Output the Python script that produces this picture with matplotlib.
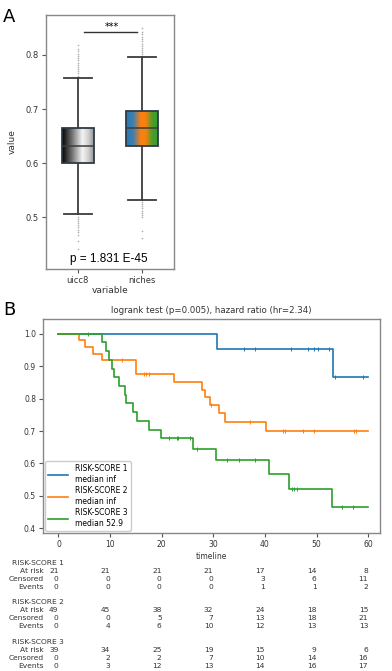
import numpy as np
import matplotlib
matplotlib.use('Agg')
import matplotlib.pyplot as plt
import matplotlib.transforms as mtransforms
from matplotlib.colors import LinearSegmentedColormap

# ---- panel A data (box stats)
groups = ['uicc8', 'niches']
q1 = [0.601, 0.631]
med = [0.632, 0.665]
q3 = [0.665, 0.697]
whislo = [0.505, 0.532]
whishi = [0.758, 0.797]
fliers_uicc8 = [0.762, 0.766, 0.770, 0.774, 0.778, 0.782, 0.786, 0.790, 0.794, 0.798,
                0.802, 0.807, 0.812, 0.819, 0.501, 0.497, 0.493, 0.489, 0.485, 0.481,
                0.477, 0.472, 0.466, 0.455, 0.441]
fliers_niches = [0.801, 0.805, 0.809, 0.813, 0.817, 0.821, 0.825, 0.829, 0.833, 0.838,
                 0.843, 0.850, 0.528, 0.524, 0.520, 0.516, 0.512, 0.508, 0.504, 0.500,
                 0.474, 0.461]
p_text = 'p = 1.831 E-45'

# ---- panel B data (Kaplan-Meier steps)
km_labels = ['RISK-SCORE 1\nmedian inf', 'RISK-SCORE 2\nmedian inf', 'RISK-SCORE 3\nmedian 52.9']
t1 = [0, 30.7, 53.1, 60]
s1 = [1.0, 0.952, 0.866, 0.866]
c1 = [36.0, 38.1, 45.0, 48.3, 49.6, 50.2, 52.5, 53.6, 59.1]
t2 = [0, 4.0, 5.2, 6.6, 8.5, 15.0, 22.3, 27.8, 28.3, 29.3, 31.1, 32.2, 40.3, 60]
s2 = [1.0, 0.980, 0.960, 0.939, 0.918, 0.877, 0.852, 0.826, 0.806, 0.780, 0.755, 0.728, 0.700, 0.700]
c2 = [12.3, 16.5, 16.9, 17.5, 29.5, 37.1, 43.6, 43.9, 47.3, 49.5, 57.2, 57.6]
t3 = [0, 8.4, 9.2, 9.8, 10.4, 10.8, 11.8, 12.9, 13.1, 14.4, 15.3, 17.5, 19.9, 26.1, 30.6,
      40.8, 44.7, 53.0, 60]
s3 = [1.0, 0.974, 0.947, 0.920, 0.893, 0.866, 0.839, 0.812, 0.785, 0.758, 0.731, 0.704,
      0.677, 0.643, 0.611, 0.566, 0.522, 0.465, 0.465]
c3 = [5.7, 21.4, 22.9, 23.2, 25.4, 26.9, 32.7, 35.0, 38.1, 45.2, 45.6, 46.2, 54.9, 57.0]

table_times = [0, 10, 20, 30, 40, 50, 60]
at_risk = [[21, 21, 21, 21, 17, 14, 8], [49, 45, 38, 32, 24, 18, 15], [39, 34, 25, 19, 15, 9, 6]]
censored = [[0, 0, 0, 0, 3, 6, 11], [0, 0, 5, 7, 13, 18, 21], [0, 2, 2, 7, 10, 14, 16]]
events = [[0, 0, 0, 0, 1, 1, 2], [0, 4, 6, 10, 12, 13, 13], [0, 3, 12, 13, 14, 16, 17]]

W, H = 392, 671
fig = plt.figure(figsize=(W / 100, H / 100), dpi=100)

# ================= panel A
axA = fig.add_axes([45.7 / W, 1 - 269 / H, 128.3 / W, 254 / H])
stats = []
for i in range(2):
    stats.append(dict(med=med[i], q1=q1[i], q3=q3[i], whislo=whislo[i], whishi=whishi[i],
                      fliers=[]))
lc = '#3c3c3c'
bp = axA.bxp(stats, positions=[0, 1], widths=0.5, capwidths=0.44, patch_artist=True,
             showfliers=False,
             boxprops=dict(facecolor='none', edgecolor='#2e3b45', linewidth=1.3, zorder=3),
             medianprops=dict(color=lc, linewidth=1.1, zorder=4),
             whiskerprops=dict(color=lc, linewidth=1.3),
             capprops=dict(color=lc, linewidth=1.3))

# gradient fills
cmaps = [LinearSegmentedColormap.from_list('g', [(0, '#000000'), (0.3, '#707070'), (0.62, '#f4f4f4'),
                                                 (0.8, '#d0d0d0'), (1, '#8a8a8a')]),
         LinearSegmentedColormap.from_list('c', [(0, '#2a78b2'), (0.22, '#3f80ae'), (0.45, '#ff7f0e'),
                                                 (0.6, '#f5820f'), (0.8, '#4d9c2a'), (1, '#2ca02c')])]
grad = np.linspace(0, 1, 256).reshape(1, -1)
for i, box in enumerate(bp['boxes']):
    im = axA.imshow(grad, cmap=cmaps[i], aspect='auto', zorder=2,
                    extent=[i - 0.25, i + 0.25, q1[i], q3[i]])
    im.set_clip_path(box)

for i, fl in enumerate([fliers_uicc8, fliers_niches]):
    axA.plot([i] * len(fl), fl, 'o', ms=1.2, color='#b0b0b0', mew=0, zorder=1)

axA.plot([0.1, 0.93], [0.843, 0.843], color='#333333', lw=1.0)
axA.text(0.53, 0.851, '***', ha='center', va='center', fontsize=7)
axA.text(0.49, 0.423, p_text, ha='center', va='center', fontsize=8.5, family='Liberation Sans')

axA.set_xlim(-0.5, 1.5)
axA.set_ylim(0.404, 0.874)
axA.set_xticks([0, 1])
axA.set_xticklabels(groups)
axA.set_yticks([0.5, 0.6, 0.7, 0.8])
axA.tick_params(labelsize=6, length=3, color='#555555', labelcolor='#333333', pad=2)
axA.set_ylabel('value', fontsize=6.5, color='#333333', labelpad=6)
axA.set_xlabel('variable', fontsize=6.5, color='#333333', labelpad=1)
for sp in axA.spines.values():
    sp.set_color('#888888')
    sp.set_linewidth(1.0)
fig.text(3 / W, 1 - 16.5 / H, 'A', fontsize=13, va='center', ha='left')

# ================= panel B
axB = fig.add_axes([43 / W, 1 - 533 / H, 337 / W, 214 / H])
colors = ['#1f77b4', '#ff7f0e', '#2ca02c']
for t, s, c, col, lab in zip([t1, t2, t3], [s1, s2, s3], [c1, c2, c3], colors, km_labels):
    axB.step(t, s, where='post', color=col, lw=1.2, label=lab)
    idx = np.searchsorted(t, c, side='right') - 1
    axB.plot(c, np.array(s)[idx], '|', color=col, ms=3, mew=0.7)

axB.set_xlim(-3, 62.3)
axB.set_ylim(0.385, 1.046)
axB.set_xticks(table_times)
axB.set_yticks([0.4, 0.5, 0.6, 0.7, 0.8, 0.9, 1.0])
axB.tick_params(labelsize=5.5, length=3, color='#555555', labelcolor='#333333', pad=2)
axB.set_xlabel('timeline', fontsize=5.5, color='#333333', labelpad=2)
axB.set_title('logrank test (p=0.005), hazard ratio (hr=2.34)', fontsize=6.2, color='#333333', pad=4)
for sp in axB.spines.values():
    sp.set_color('#888888')
    sp.set_linewidth(1.0)
axB.legend(loc='lower left', fontsize=5.5, handlelength=2.6, borderaxespad=0.3,
           labelspacing=0.35, framealpha=1, edgecolor='#cccccc', handletextpad=0.9)
fig.text(3 / W, 1 - 310 / H, 'B', fontsize=13, va='center', ha='left')

# at-risk table
trans = mtransforms.blended_transform_factory(axB.transData, fig.transFigure)
row_names = ['At risk', 'Censored', 'Events']
head_y = [563, 602, 642]
for g in range(3):
    y0 = head_y[g]
    fig.text(12 / W, 1 - y0 / H, 'RISK-SCORE %d' % (g + 1), fontsize=5.4, va='center',
             color='#333333')
    for r, vals in enumerate([at_risk[g], censored[g], events[g]]):
        yy = 1 - (y0 + 8 * (r + 1)) / H
        fig.text(44 / W, yy, row_names[r], fontsize=5.4, va='center', ha='right', color='#333333')
        for tt, v in zip(table_times, vals):
            axB.text(tt, yy, str(v), transform=trans, fontsize=5.4, va='center', ha='right',
                     color='#333333')

fig.savefig('out.png', dpi=100)
